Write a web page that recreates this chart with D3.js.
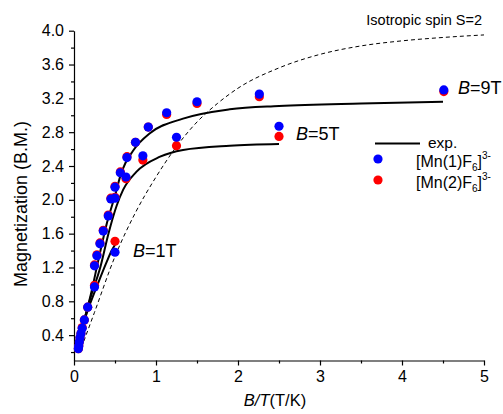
<!DOCTYPE html>
<html>
<head>
<meta charset="utf-8">
<script src="https://cdn.jsdelivr.net/npm/d3@7"></script>
<style>
  body { margin: 0; background: #fff; }
  svg { font-family: "Liberation Sans", Arial, sans-serif; }
  .axis path, .axis line { stroke: #000; stroke-width: 1.2; }
  .axis text { font-size: 16px; fill: #000; }
</style>
</head>
<body>
<div id="chart"></div>
<script>
// B/T values of the measured points, with the two Mn sites
const ptsX = [0.053, 0.058, 0.065, 0.073, 0.085, 0.10, 0.126, 0.167, 0.25, 0.25, 0.28, 0.317, 0.357, 0.418, 0.45, 0.50, 0.50, 0.565, 0.634, 0.646, 0.75, 0.84, 0.906, 1.13, 1.25, 1.50, 2.26, 2.50, 4.51, 0.50];
const mn1 = [0.24, 0.27, 0.32, 0.37, 0.42, 0.48, 0.58, 0.73, 0.97, 1.22, 1.34, 1.48, 1.63, 1.81, 2.01, 2.02, 2.15, 2.32, 2.27, 2.50, 2.68, 2.52, 2.86, 3.03, 2.74, 3.16, 3.25, 2.87, 3.30, 1.38];
const mn2 = [0.24, 0.27, 0.32, 0.37, 0.42, 0.49, 0.58, 0.73, 0.99, 1.23, 1.35, 1.49, 1.64, 1.82, 2.02, 2.03, 2.16, 2.33, 2.25, 2.51, 2.68, 2.47, 2.86, 3.01, 2.64, 3.14, 3.22, 2.75, 3.28, 1.51];

const exp9X = [0.01, 0.1, 0.2, 0.3, 0.4, 0.5, 0.58, 0.72, 0.93, 1.33, 1.9, 2.5, 3.5, 4.5];
const exp9Y = [0.26, 0.5, 0.86, 1.3, 1.72, 2.05, 2.33, 2.58, 2.79, 2.96, 3.07, 3.11, 3.14, 3.16];
const exp5X = [0.01, 0.1, 0.2, 0.32, 0.42, 0.52, 0.6, 0.76, 1.05, 1.33, 1.9, 2.5];
const exp5Y = [0.26, 0.5, 0.84, 1.2, 1.6, 1.93, 2.12, 2.33, 2.51, 2.59, 2.64, 2.66];
const exp1X = [0.01, 0.1, 0.2, 0.3, 0.4, 0.46, 0.5];
const exp1Y = [0.26, 0.5, 0.78, 1.03, 1.27, 1.40, 1.47];

// isotropic S=2 curve
const isoX = [0.09, 0.25, 0.5, 0.75, 1.0, 1.25, 1.5, 1.75, 2.0, 2.5, 3.0, 3.5, 4.0, 4.5, 5.0];
const isoY = [0.25, 0.67, 1.33, 1.85, 2.27, 2.63, 2.92, 3.14, 3.32, 3.56, 3.72, 3.82, 3.88, 3.92, 3.95];

const width = 503, height = 414;
const svg = d3.select("#chart").append("svg")
  .attr("width", width).attr("height", height);

const x = d3.scaleLinear().domain([0, 5]).range([74, 484]);
const y = d3.scaleLinear().domain([0.1, 4.0]).range([360.5, 30.7]);

// minor ticks first
svg.append("g").attr("class", "axis")
  .attr("transform", "translate(0,360.5)")
  .call(d3.axisBottom(x).tickValues(d3.range(0.5, 5, 1)).tickSize(3).tickFormat(""))
  .call(g => g.select(".domain").remove());
svg.append("g").attr("class", "axis")
  .attr("transform", "translate(74,0)")
  .call(d3.axisLeft(y).tickValues(d3.range(0.2, 4.0, 0.4)).tickSize(3).tickFormat(""))
  .call(g => g.select(".domain").remove());

svg.append("g").attr("class", "axis")
  .attr("transform", "translate(0,360.5)")
  .call(d3.axisBottom(x).tickValues([0, 1, 2, 3, 4, 5]).tickSize(5).tickSizeOuter(0).tickPadding(5).tickFormat(d3.format("d")));
svg.append("g").attr("class", "axis")
  .attr("transform", "translate(74,0)")
  .call(d3.axisLeft(y).tickValues(d3.range(0.4, 4.01, 0.4)).tickSize(5).tickSizeOuter(0).tickPadding(5).tickFormat(d3.format(".1f")));

const line = d3.line().x(d => x(d[0])).y(d => y(d[1])).curve(d3.curveMonotoneX);

svg.append("path")
  .datum(d3.zip(isoX, isoY))
  .attr("d", line).attr("fill", "none")
  .attr("stroke", "#000").attr("stroke-width", 1).attr("stroke-dasharray", "4,3");

[[exp9X, exp9Y], [exp5X, exp5Y], [exp1X, exp1Y]].forEach(c => {
  svg.append("path")
    .datum(d3.zip(c[0], c[1]))
    .attr("d", line).attr("fill", "none")
    .attr("stroke", "#000").attr("stroke-width", 2);
});

svg.append("g").selectAll("circle")
  .data(d3.zip(ptsX, mn2)).enter().append("circle")
  .attr("cx", d => x(d[0])).attr("cy", d => y(d[1])).attr("r", 4.6)
  .attr("fill", "#ff0000");
svg.append("g").selectAll("circle")
  .data(d3.zip(ptsX, mn1)).enter().append("circle")
  .attr("cx", d => x(d[0])).attr("cy", d => y(d[1])).attr("r", 4.6)
  .attr("fill", "#0000ff");

// field labels
const fieldLabel = (px, py, val) => {
  const t = svg.append("text").attr("x", px).attr("y", py).attr("font-size", 18);
  t.append("tspan").attr("font-style", "italic").text("B");
  t.append("tspan").text("=" + val);
};
fieldLabel(133, 257, "1T");
fieldLabel(296, 140, "5T");
fieldLabel(458, 94, "9T");

svg.append("text").attr("x", 482).attr("y", 25).attr("text-anchor", "end")
  .attr("font-size", 14.5).text("Isotropic spin S=2");

// legend
svg.append("line").attr("x1", 375).attr("x2", 420).attr("y1", 143.5).attr("y2", 143.5)
  .attr("stroke", "#000").attr("stroke-width", 2);
svg.append("text").attr("x", 428).attr("y", 148).attr("font-size", 15.5).text("exp.");
const legendItem = (cy, color, site) => {
  svg.append("circle").attr("cx", 378).attr("cy", cy).attr("r", 4.6).attr("fill", color);
  const t = svg.append("text").attr("x", 416).attr("y", cy + 8).attr("font-size", 16);
  t.append("tspan").text("[Mn(" + site + ")F");
  t.append("tspan").attr("font-size", 10).attr("dy", 4).text("6");
  t.append("tspan").attr("dy", -4).text("]");
  t.append("tspan").attr("font-size", 10).attr("dy", -8).text("3-");
};
legendItem(159, "#0000ff", 1);
legendItem(180, "#ff0000", 2);

// axis titles
const xt = svg.append("text").attr("x", 275).attr("y", 406).attr("text-anchor", "middle").attr("font-size", 16.5);
xt.append("tspan").attr("font-style", "italic").text("B/T");
xt.append("tspan").text("(T/K)");
svg.append("text").attr("transform", "translate(27,204) rotate(-90)")
  .attr("text-anchor", "middle").attr("font-size", 18).text("Magnetization (B.M.)");
</script>
</body>
</html>
